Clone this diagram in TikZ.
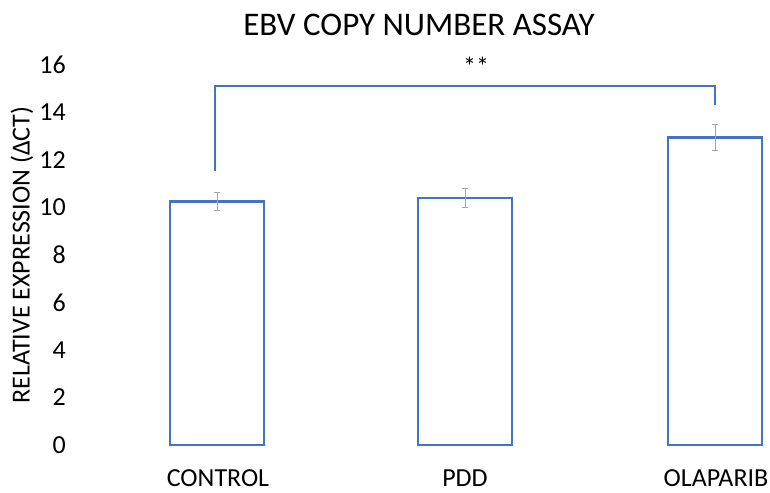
\documentclass[tikz,border=0pt]{standalone}
\usepackage{fontspec}
\setmainfont{Carlito}
\definecolor{barblue}{HTML}{4472C4}
\definecolor{errgray}{HTML}{A5A5A5}
\tikzset{
  bar/.style={draw=barblue, line width=2.5pt, fill=white},
  err/.style={draw=errgray, line width=1pt},
  brk/.style={draw=barblue, line width=2.6pt},
  tick/.style={anchor=east, font=\fontsize{26}{30}\selectfont, inner sep=0pt},
  cat/.style={anchor=center, font=\fontsize{26}{30}\selectfont, inner sep=0pt},
}
\begin{document}
\begin{tikzpicture}[x=1pt,y=-1pt]
\useasboundingbox (0,0) rectangle (770,492);
% title
\node[font=\fontsize{33}{38}\selectfont, inner sep=0pt] (title) at (419,25) {EBV COPY NUMBER ASSAY};
% y axis ticks: 0 at 445, 23.75 per unit
\foreach \v in {0,2,...,16} {
  \node[tick] (t\v) at (66,{445-23.75*\v}) {\v};
}
\node[rotate=90, font=\fontsize{26}{30}\selectfont, inner sep=0pt] (ylab) at (22,255) {RELATIVE EXPRESSION (ΔCT)};
% bars
\draw[bar] (170,445) rectangle (264,{445-23.75*10.25});
\draw[bar] (418,445) rectangle (512,{445-23.75*10.4});
\draw[bar] (668,445) rectangle (762,{445-23.75*12.95});
% error bars
\foreach \x/\m/\e in {217/10.25/0.38, 465/10.4/0.4, 715/12.95/0.55} {
  \draw[err] (\x,{445-23.75*(\m-\e)}) -- (\x,{445-23.75*(\m+\e)});
  \draw[err] (\x-3,{445-23.75*(\m-\e)}) -- (\x+3,{445-23.75*(\m-\e)});
  \draw[err] (\x-3,{445-23.75*(\m+\e)}) -- (\x+3,{445-23.75*(\m+\e)});
}
% categories
\node[cat] (c1) at (218,478) {CONTROL};
\node[cat] (c2) at (465,478) {PDD};
\node[cat] (c3) at (716,478) {OLAPARIB};
% significance bracket
\coordinate (bl) at (215,171);
\coordinate (br) at (715,105);
\draw[brk] (bl) -- (215,86) -- (715,86) -- (br);
\node[font=\fontsize{26}{30}\selectfont, inner sep=0pt] (sig) at (476,66) {**};
\end{tikzpicture}
\end{document}
